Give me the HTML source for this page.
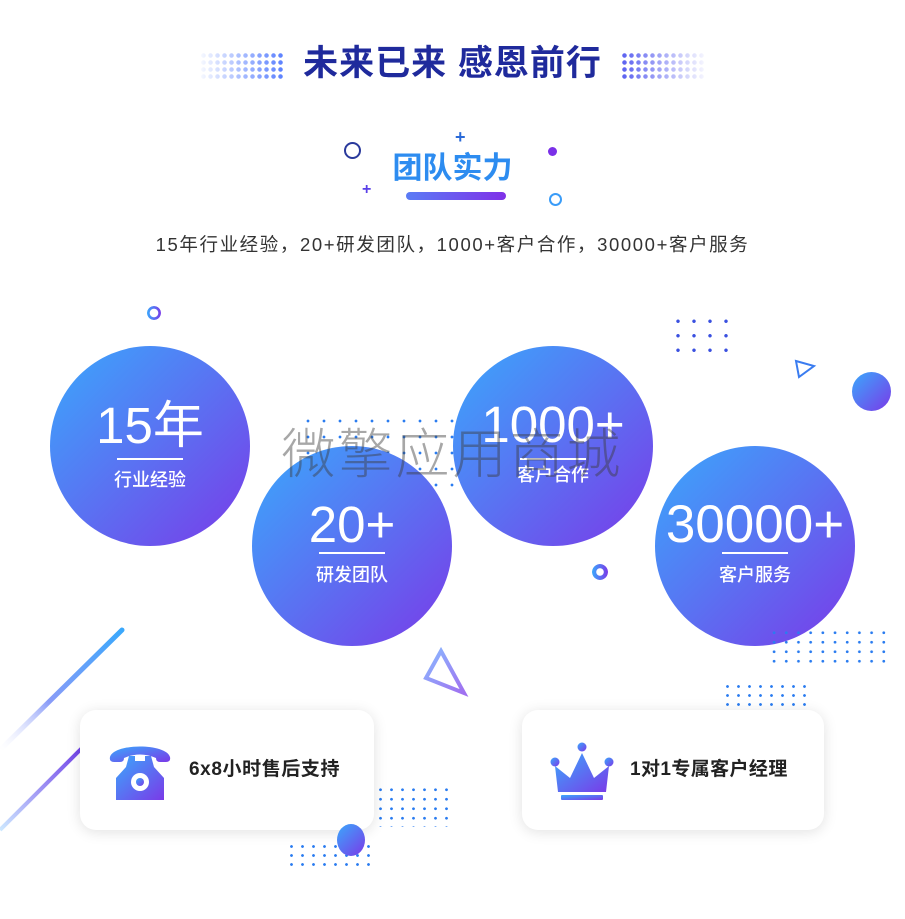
<!DOCTYPE html>
<html><head><meta charset="utf-8"><style>
html,body{margin:0;padding:0;}
body{width:905px;height:919px;position:relative;overflow:hidden;background:#fff;font-family:"Liberation Sans","Noto Sans CJK SC",sans-serif;}
.a{position:absolute;}
.c{position:absolute;width:200px;height:200px;border-radius:50%;background:linear-gradient(135deg,#3aa8fc 0%,#5a72f2 50%,#7a3ae8 100%);color:#fff;text-align:center;}
.c .n{position:absolute;left:0;right:0;font-size:51px;line-height:52px;font-family:"Liberation Sans","Noto Sans CJK SC",sans-serif;}
.c .ln{position:absolute;left:67px;width:66px;height:2px;background:#fff;}
.c .l{position:absolute;left:0;right:0;font-size:18px;line-height:22px;font-weight:500;}
.card{position:absolute;background:#fff;border-radius:16px;box-shadow:0 2px 14px rgba(0,0,0,0.12);}
.dots{position:absolute;background-image:radial-gradient(circle,#2a7cf0 1.2px,transparent 1.6px);}
</style></head><body>
<div class="a" style="left:200px;top:52px;width:84px;height:28px;background-image:radial-gradient(circle,#5a80ff 2px,transparent 2.5px);background-size:7px 7px;-webkit-mask-image:linear-gradient(90deg,rgba(0,0,0,0.05),#000);mask-image:linear-gradient(90deg,rgba(0,0,0,0.05),#000);"></div>
<div class="a" style="left:621px;top:52px;width:84px;height:28px;background-image:radial-gradient(circle,#5a60f0 2px,transparent 2.5px);background-size:7px 7px;-webkit-mask-image:linear-gradient(90deg,#000,rgba(0,0,0,0.05));mask-image:linear-gradient(90deg,#000,rgba(0,0,0,0.05));"></div>
<div class="a" style="left:0;width:905px;top:40px;text-align:center;font-size:35px;line-height:48px;font-weight:700;color:#1f2a9c;letter-spacing:1px;">未来已来 感恩前行</div>

<div class="a" style="left:344px;top:142px;width:13px;height:13px;border:2px solid #2a3a9c;border-radius:50%;"></div>
<div class="a" style="left:455px;top:129px;font-size:18px;font-weight:700;color:#2a6ad8;line-height:16px;">+</div>
<div class="a" style="left:362px;top:182px;font-size:16px;font-weight:700;color:#5a40e8;line-height:16px;">+</div>
<div class="a" style="left:548px;top:147px;width:9px;height:9px;background:#7a30e8;border-radius:50%;"></div>
<div class="a" style="left:549px;top:193px;width:9px;height:9px;border:2px solid #3a9cf8;border-radius:50%;"></div>
<div class="a" style="left:0;width:905px;top:149px;text-align:center;font-size:30px;line-height:40px;font-weight:700;color:#2d8cf0;">团队实力</div>
<div class="a" style="left:406px;top:192px;width:100px;height:8px;border-radius:4px;background:linear-gradient(90deg,#5a7cf5,#8030e8);"></div>
<div class="a" style="left:0;width:905px;top:232px;text-align:center;font-size:18.5px;line-height:26px;color:#333;letter-spacing:1.6px;">15年行业经验，20+研发团队，1000+客户合作，30000+客户服务</div>

<div class="a" style="left:147px;top:306px;width:14px;height:14px;border-radius:50%;background:linear-gradient(90deg,#3aa8fc,#7a3ae8);-webkit-mask:radial-gradient(circle,transparent 4px,#000 4.5px);mask:radial-gradient(circle,transparent 4px,#000 4.5px);"></div>
<div class="a" style="left:670px;top:314px;width:60px;height:42px;background-image:radial-gradient(circle,#3a50e0 1.5px,transparent 2px);background-size:16px 14.5px;"></div>
<svg class="a" style="left:792px;top:358px" width="26" height="22"><polygon points="4,3 22,8 7,19" fill="none" stroke="#3a7cf0" stroke-width="2"/></svg>
<div class="a" style="left:852px;top:372px;width:39px;height:39px;border-radius:50%;background:linear-gradient(135deg,#3aa8fc,#7a3ae8);"></div>
<div class="dots" style="left:300px;top:413px;width:160px;height:86px;background-size:16px 16px;"></div>
<div class="a" style="left:592px;top:564px;width:16px;height:16px;border-radius:50%;background:linear-gradient(90deg,#3aa8fc,#7a3ae8);-webkit-mask:radial-gradient(circle,transparent 3.5px,#000 4px);mask:radial-gradient(circle,transparent 3.5px,#000 4px);"></div>

<div class="c" style="left:50px;top:346px;"><div class="n" style="top:54px">15年</div><div class="ln" style="top:112px"></div><div class="l" style="top:123px">行业经验</div></div>
<div class="c" style="left:453px;top:346px;"><div class="n" style="top:53px">1000+</div><div class="ln" style="top:112px"></div><div class="l" style="top:118px">客户合作</div></div>
<div class="c" style="left:252px;top:446px;"><div class="n" style="top:53px">20+</div><div class="ln" style="top:106px"></div><div class="l" style="top:118px">研发团队</div></div>
<div class="c" style="left:655px;top:446px;"><div class="n" style="top:53px;font-size:53px;">30000+</div><div class="ln" style="top:106px"></div><div class="l" style="top:118px">客户服务</div></div>

<div class="a" style="left:0;width:905px;top:422px;text-align:center;font-size:54px;line-height:66px;font-weight:300;color:rgba(60,60,60,0.45);letter-spacing:3px;">微擎应用商城</div>

<div class="dots" style="left:768px;top:628px;width:122px;height:36px;background-size:12.2px 9.5px;"></div>
<div class="dots" style="left:722px;top:682px;width:84px;height:28px;background-size:11px 9px;"></div>
<svg class="a" style="left:420px;top:645px" width="50" height="55"><defs><linearGradient id="tg" x1="0" y1="0" x2="1" y2="1"><stop offset="0" stop-color="#8ab8ff"/><stop offset="1" stop-color="#a070f0"/></linearGradient></defs><polygon points="21,6 44,48 6,33" fill="none" stroke="url(#tg)" stroke-width="4"/></svg>

<svg class="a" style="left:0;top:620px" width="130" height="220"><defs>
<linearGradient id="l1" x1="1" y1="0" x2="0" y2="1"><stop offset="0" stop-color="#3aa8fc"/><stop offset="0.6" stop-color="#8a9cf8"/><stop offset="1" stop-color="#fff" stop-opacity="0.2"/></linearGradient>
<linearGradient id="l2" x1="1" y1="0" x2="0" y2="1"><stop offset="0" stop-color="#7040e8"/><stop offset="1" stop-color="#cde8ff"/></linearGradient></defs>
<line x1="122" y1="10" x2="0" y2="130" stroke="url(#l1)" stroke-width="5" stroke-linecap="round"/>
<line x1="82" y1="128" x2="0" y2="210" stroke="url(#l2)" stroke-width="4"/></svg>

<div class="dots" style="left:375px;top:785px;width:80px;height:42px;background-size:11px 9.5px;"></div>
<div class="dots" style="left:286px;top:842px;width:84px;height:28px;background-size:11px 9px;"></div>

<div class="card" style="left:80px;top:710px;width:294px;height:120px;"></div>
<div class="card" style="left:522px;top:710px;width:302px;height:120px;"></div>
<div class="a" style="left:337px;top:824px;width:28px;height:32px;border-radius:50%;background:linear-gradient(135deg,#3aa8fc,#7a3ae8);"></div>

<svg class="a" style="left:108px;top:743px" width="64" height="60"><defs><linearGradient id="pg" x1="0" y1="0" x2="1" y2="1"><stop offset="0" stop-color="#3aa8fc"/><stop offset="1" stop-color="#7a3ae8"/></linearGradient></defs>
<path d="M2,14 C6,0 58,0 62,14 Q63,19 58,19 L52,19 Q48,19 48,15 Q32,8 16,15 Q16,19 12,19 L6,19 Q1,19 2,14Z" fill="url(#pg)"/>
<path d="M21,13 L27,13 L27,18 L37,18 L37,13 L43,13 L46,24 L56,35 L56,57 L8,57 L8,35 L18,24Z" fill="url(#pg)"/>
<circle cx="32" cy="39" r="9" fill="#fff"/><circle cx="32" cy="39" r="4" fill="url(#pg)"/></svg>
<div class="a" style="left:189px;top:757px;font-size:19px;line-height:26px;font-weight:700;color:#222;letter-spacing:0.6px;">6x8小时售后支持</div>

<svg class="a" style="left:550px;top:740px" width="64" height="62"><defs><linearGradient id="cg" x1="0" y1="0" x2="1" y2="1"><stop offset="0" stop-color="#3aa8fc"/><stop offset="1" stop-color="#7a3ae8"/></linearGradient></defs>
<circle cx="32" cy="7" r="4.5" fill="url(#cg)"/><circle cx="5" cy="22" r="4.5" fill="url(#cg)"/><circle cx="59" cy="22" r="4.5" fill="url(#cg)"/>
<path d="M5,26 L20,38 L32,13 L44,38 L59,26 L56,52 L8,52Z" fill="url(#cg)"/>
<rect x="11" y="55" width="42" height="5" rx="1" fill="url(#cg)"/></svg>
<div class="a" style="left:630px;top:757px;font-size:19px;line-height:26px;font-weight:700;color:#222;letter-spacing:0.4px;">1对1专属客户经理</div>
</body></html>
